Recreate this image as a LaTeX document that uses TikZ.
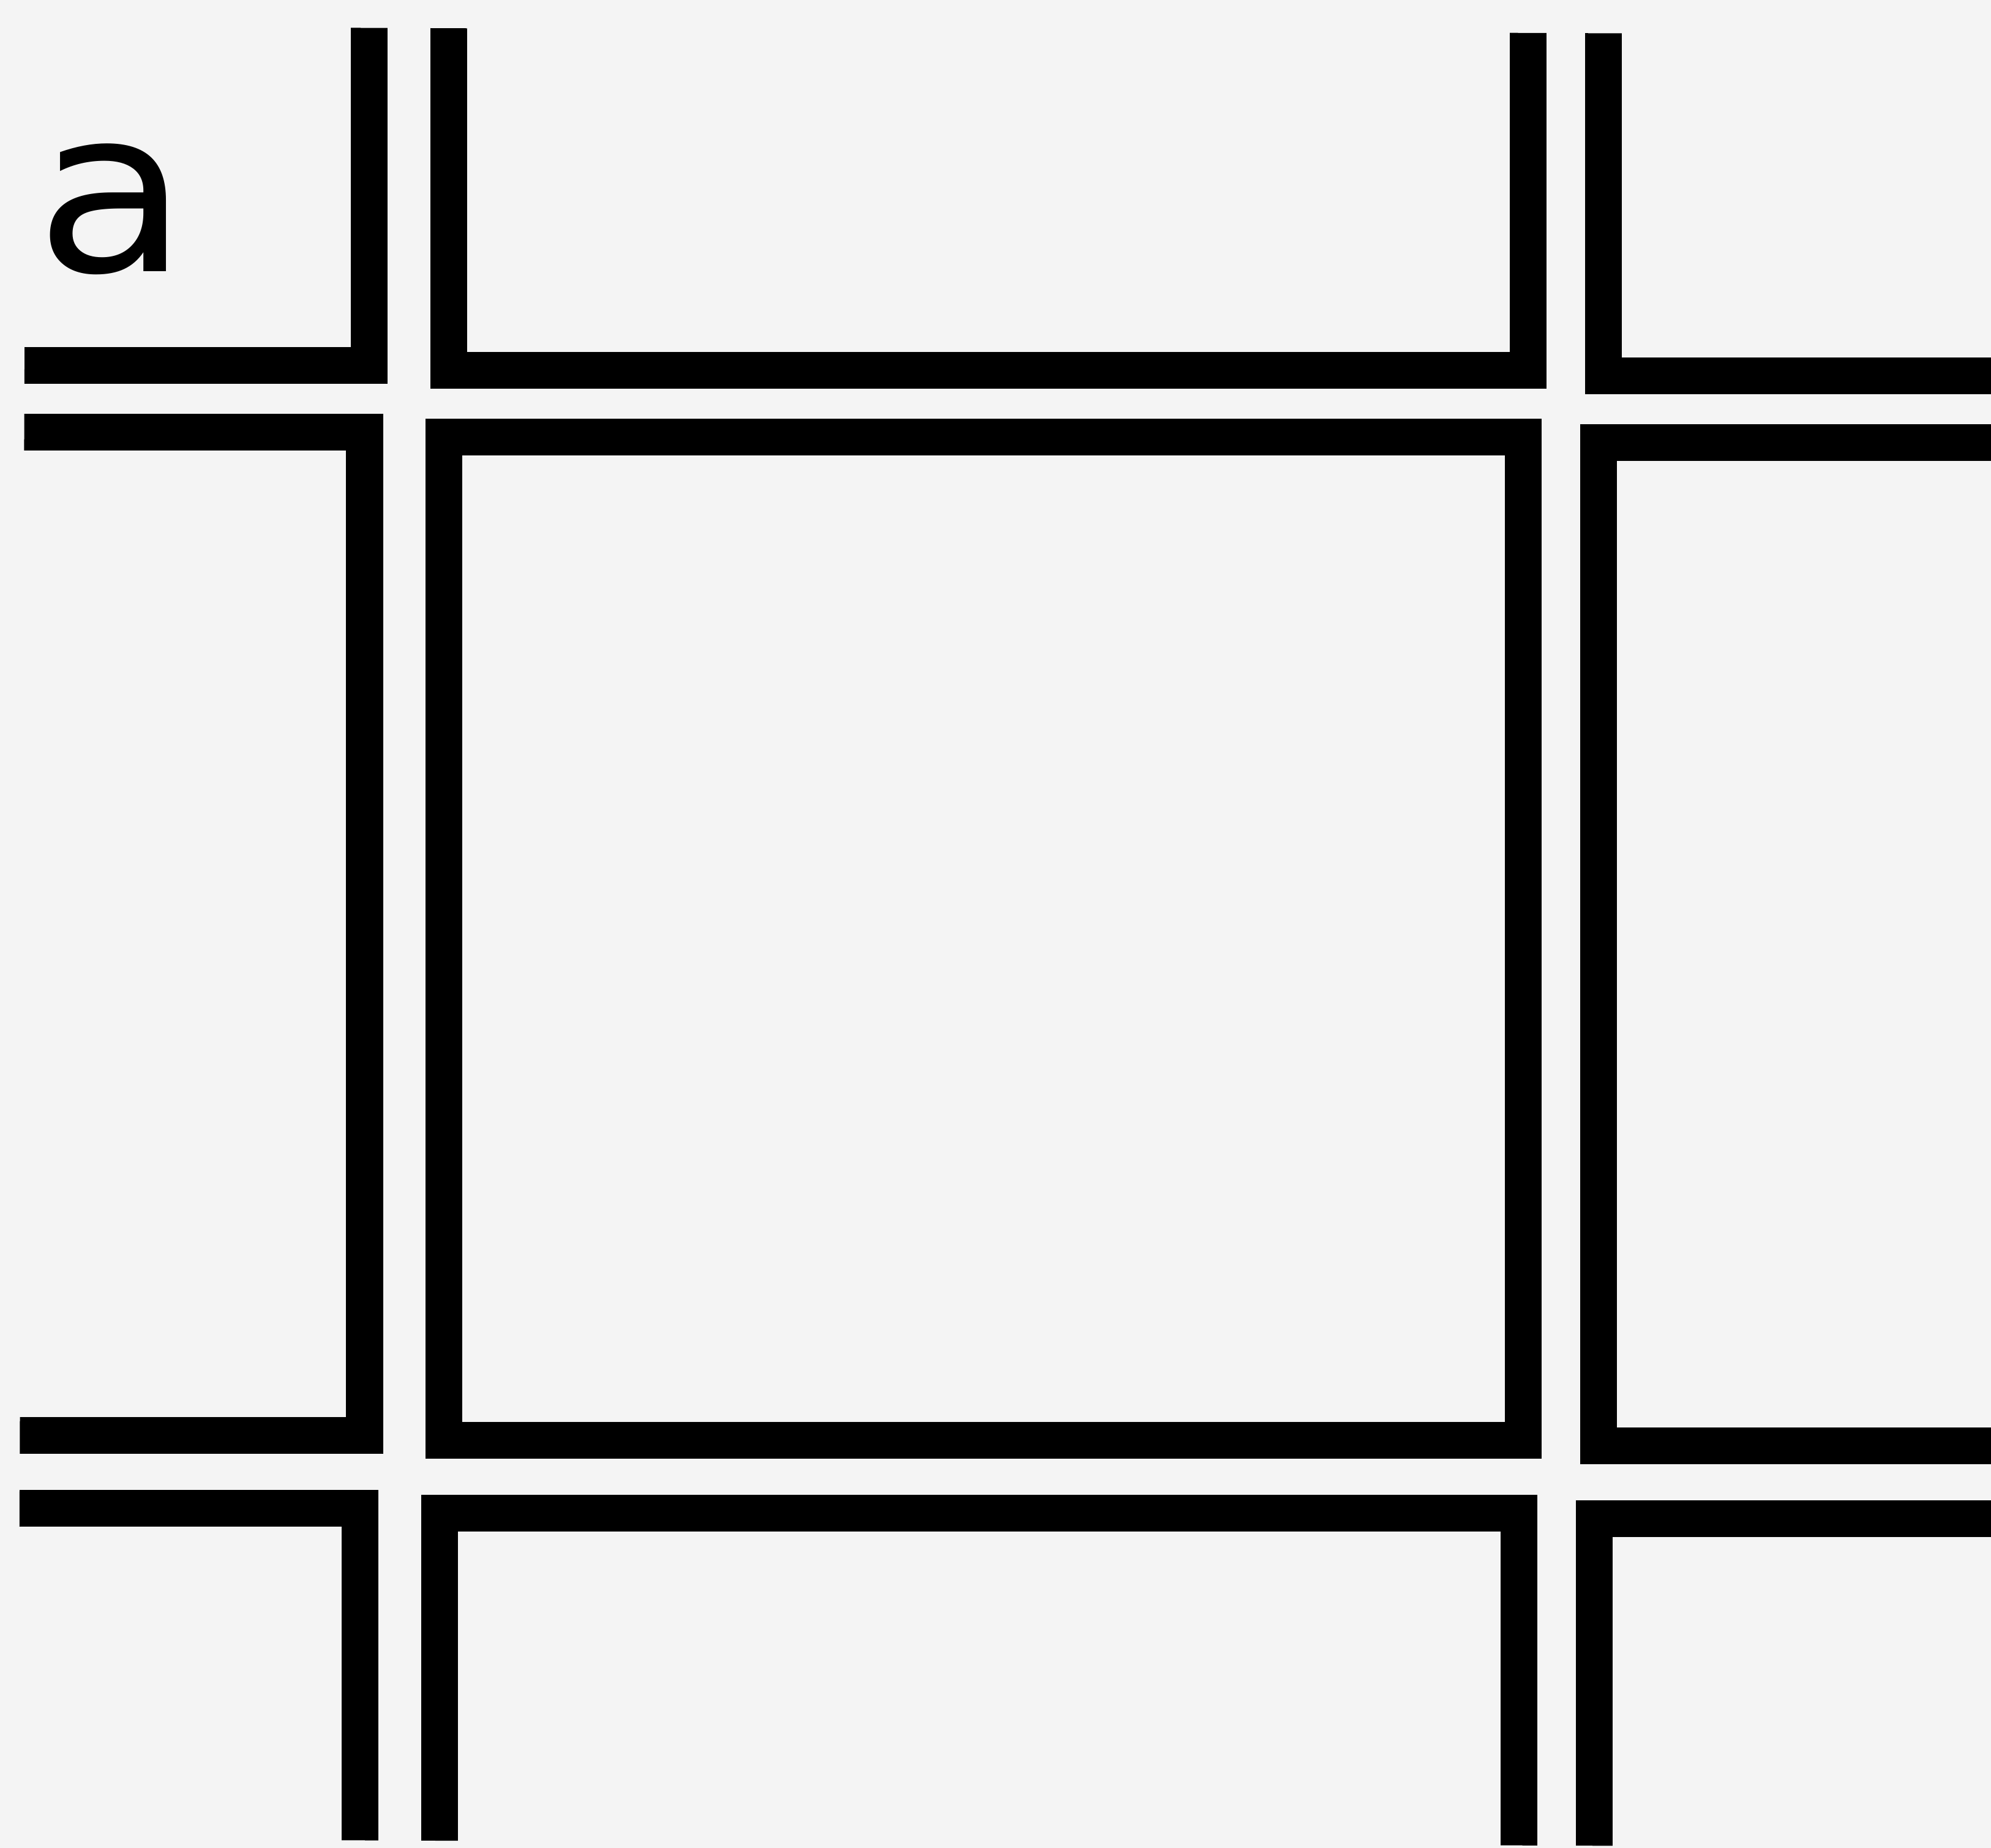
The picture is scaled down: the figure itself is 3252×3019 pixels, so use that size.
\documentclass[tikz,border=0pt]{standalone}
\usepackage{fontspec}
\setmainfont{DejaVu Sans}
\usetikzlibrary{positioning}
\definecolor{paper}{RGB}{244,244,244}

\begin{document}
\begin{tikzpicture}[x=0.01cm, y=-0.01cm,
  blk/.style={rectangle, draw=black, line width=6mm, line join=miter,
  minimum width=17.62cm, minimum height=16.38cm, inner sep=0pt, outer sep=0pt},
  lbl/.style={font=\fontsize{106}{106}\selectfont, inner sep=0pt, anchor=base, xscale=1.1}]
  \fill[paper] (0,0) rectangle (3252,3019);
  \useasboundingbox (0,0) rectangle (3252,3019);

  % grid of blocks, scan is a little skewed
  \begin{scope}[rotate around={-0.25:(1626,1510)}]
  \clip (36,50) rectangle (3400,3011);
  \node[blk] (nw) at (-286,-214) {};
  \node[blk] (n) at (1607,-214) {};
  \node[blk] (ne) at (3493,-214) {};
  \node[blk] (w) at (-286,1534) {};
  \node[blk] (c) at (1607,1534) {};
  \node[blk] (e) at (3493,1534) {};
  \node[blk] (sw) at (-286,3292) {};
  \node[blk] (s) at (1607,3292) {};
  \node[blk] (se) at (3493,3292) {};
  \end{scope}

  \node[lbl] (tag) at (183,444) {a};
\end{tikzpicture}
\end{document}
